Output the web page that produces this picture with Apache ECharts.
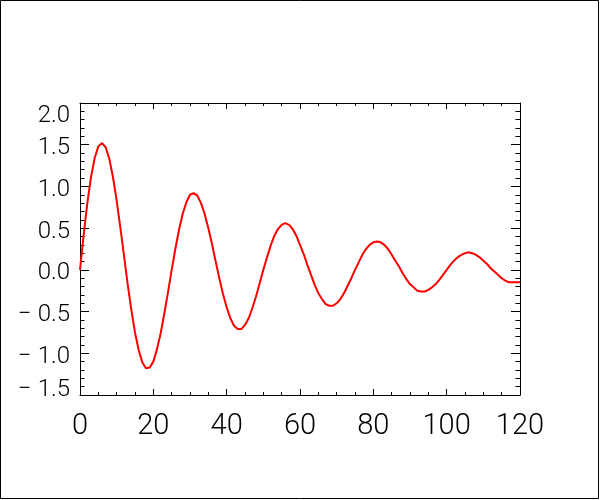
<!DOCTYPE html>
<html><head><meta charset="utf-8">
<script src="https://cdn.jsdelivr.net/npm/echarts@6/dist/echarts.min.js"></script>
<style>html,body{margin:0;padding:0;background:#fff}#c{width:600px;height:500px}</style>
</head><body><div id="c"></div>
<script>
// x positions (0..120 step 1) and values
const xValues = [];
for (let i = 0; i <= 120; i++) xValues.push(i);
const yValues = [
  0.00, 0.42, 0.80, 1.11, 1.34, 1.48, 1.52, 1.47, 1.33, 1.11, 0.83, 0.51, 0.17, -0.17, -0.48, -0.75, -0.96, -1.11, -1.18, -1.17, -1.10, -0.95, -0.76, -0.52, -0.27,
  0.00, 0.25, 0.48, 0.67, 0.81, 0.90, 0.92, 0.89, 0.80, 0.67, 0.50, 0.31, 0.10, -0.10, -0.29, -0.45, -0.58, -0.67, -0.71, -0.71, -0.66, -0.58, -0.46, -0.32, -0.16,
  0.00, 0.15, 0.29, 0.41, 0.49, 0.54, 0.56, 0.54, 0.49, 0.41, 0.30, 0.19, 0.06, -0.06, -0.18, -0.28, -0.35, -0.41, -0.43, -0.43, -0.40, -0.35, -0.28, -0.19, -0.10,
  0.00, 0.09, 0.18, 0.25, 0.30, 0.33, 0.34, 0.33, 0.30, 0.25, 0.18, 0.11, 0.04, -0.04, -0.11, -0.17, -0.21, -0.25, -0.26, -0.26, -0.24, -0.21, -0.17, -0.12, -0.06,
  0.00, 0.06, 0.11, 0.15, 0.18, 0.20, 0.21, 0.20, 0.18, 0.15, 0.11, 0.07, 0.02, -0.02, -0.06, -0.10, -0.13, -0.15, -0.15, -0.15, -0.15
];
const xMin = 0, xMax = 120, xInterval = 20;
const yMin = -1.5, yMax = 2.0, yInterval = 0.5;

const fontFam = 'Roboto';
const labelFont = { fontSize: 24, fontFamily: fontFam, fontWeight: 300, color: '#000' };
const axisCommon = (extra) => Object.assign({
  type: 'value',
  axisLine: { show: true, onZero: false, lineStyle: { color: '#000', width: 1 } },
  splitLine: { show: false },
  minorSplitLine: { show: false }
}, extra);

const fmtY = v => {
  const t = (v < 0 ? '\u2212\u2005' : '') + Math.abs(v).toFixed(1);
  if (Math.abs(v - yMax) < 1e-9) return '{hi|' + t + '}';
  if (Math.abs(v - yMin) < 1e-9) return '{lo|' + t + '}';
  return '{n|' + t + '}';
};

const chart = echarts.init(document.getElementById('c'), null, { renderer: 'canvas' });
chart.setOption({
  animation: false,
  backgroundColor: '#fff',
  grid: { left: 80, right: 80, top: 103, bottom: 105, containLabel: false },
  xAxis: [
    axisCommon({
      position: 'bottom', min: xMin, max: xMax, interval: xInterval,
      axisTick: { show: true, inside: true, length: 6, lineStyle: { color: '#000' } },
      minorTick: { show: true, splitNumber: 4, length: 3, lineStyle: { color: '#000' } },
      axisLabel: { show: true, margin: 17, fontSize: 29, color: '#000', fontFamily: fontFam, fontWeight: 300 }
    }),
    axisCommon({
      position: 'top', min: xMin, max: xMax, interval: xInterval,
      axisTick: { show: true, inside: true, length: 6, lineStyle: { color: '#000' } },
      minorTick: { show: true, splitNumber: 4, length: 3, lineStyle: { color: '#000' } },
      axisLabel: { show: false }
    })
  ],
  yAxis: [
    axisCommon({
      position: 'left', min: yMin, max: yMax, interval: yInterval,
      axisTick: { show: true, inside: true, length: 9, lineStyle: { color: '#000' } },
      minorTick: { show: true, splitNumber: 5, length: 4.5, lineStyle: { color: '#000' } },
      axisLabel: Object.assign({
        show: true, margin: 10,
        formatter: fmtY,
        rich: {
          n: Object.assign({ padding: [7, 0, 0, 0] }, labelFont),
          hi: Object.assign({ padding: [26, 0, 0, 0] }, labelFont),
          lo: Object.assign({ padding: [0, 0, 10, 0] }, labelFont)
        }
      }, labelFont)
    }),
    axisCommon({
      position: 'right', min: yMin, max: yMax, interval: yInterval,
      axisTick: { show: true, inside: true, length: 9, lineStyle: { color: '#000' } },
      minorTick: { show: true, splitNumber: 5, length: 4.5, lineStyle: { color: '#000' } },
      axisLabel: { show: false }
    })
  ],
  series: [{
    type: 'line',
    xAxisIndex: 0, yAxisIndex: 0,
    data: xValues.map((x, i) => [x, yValues[i]]),
    showSymbol: false, symbol: 'none',
    lineStyle: { color: '#ff0000', width: 2 },
    itemStyle: { color: '#ff0000' },
    clip: true
  }],
  graphic: [{
    type: 'rect', silent: true, z: 100,
    shape: { x: 0.5, y: 0.5, width: 598, height: 498 },
    style: { fill: 'none', stroke: '#000', lineWidth: 1 }
  }]
});
</script>
</body></html>
